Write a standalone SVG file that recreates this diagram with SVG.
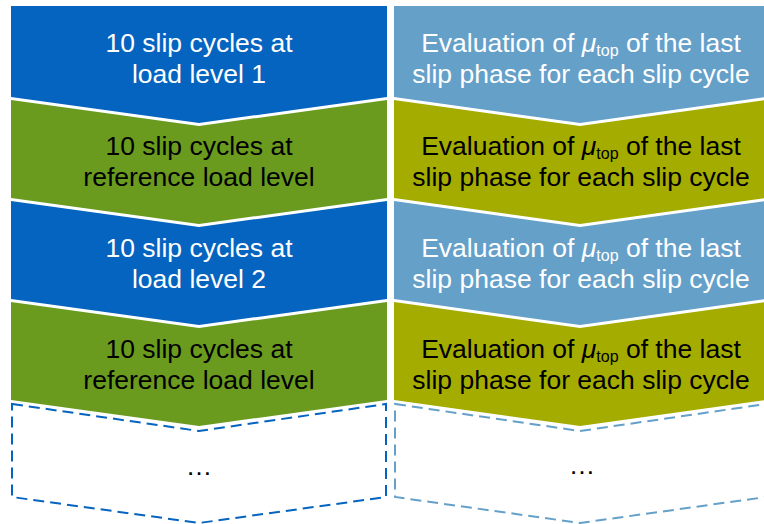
<svg xmlns="http://www.w3.org/2000/svg" width="764" height="524" viewBox="0 0 764 524">
<style>
.t{font-family:"Liberation Sans",Arial,sans-serif;font-size:26.5px;text-anchor:middle}
.w{fill:#ffffff}
.k{fill:#000000}
.mu{font-style:italic}
.sub{font-size:16px}
.db{fill:#0564c0}
.lb{fill:#65a0c9}
.gr{fill:#6a9b1f}
.ol{fill:#a5ac00}
.dash{fill:none;stroke-width:2;stroke-dasharray:11 6}
</style>
<rect width="764" height="524" fill="#ffffff"/>
<g id="connectors"/>
<g id="left1">
<polygon class="db" points="11,6 387,6 387,97 199,123 11,97"/>
<text class="t w" x="199" y="52">10 slip cycles at</text>
<text class="t w" x="199" y="83">load level 1</text>
</g>
<g id="left2">
<polygon class="gr" points="11,100 199,126 387,100 387,198 199,224 11,198"/>
<text class="t k" x="199" y="155">10 slip cycles at</text>
<text class="t k" x="199" y="186">reference load level</text>
</g>
<g id="left3">
<polygon class="db" points="11,201 199,227 387,201 387,299 199,325 11,299"/>
<text class="t w" x="199" y="257">10 slip cycles at</text>
<text class="t w" x="199" y="288">load level 2</text>
</g>
<g id="left4">
<polygon class="gr" points="11,302 199,328 387,302 387,400 199,426 11,400"/>
<text class="t k" x="199" y="358">10 slip cycles at</text>
<text class="t k" x="199" y="389">reference load level</text>
</g>
<g id="left5">
<polygon class="dash" stroke="#0564c0" points="12,404 199,431 386,404 386,497 199,523 12,497"/>
<text class="t k" x="199" y="475">…</text>
</g>
<g id="right1">
<polygon class="lb" points="394,6 766,6 766,97 580,123 394,97"/>
<text class="t w" x="581" y="52">Evaluation of <tspan class="mu">μ</tspan><tspan class="sub" dy="4">top</tspan><tspan dy="-4"> of the last</tspan></text>
<text class="t w" x="581" y="83">slip phase for each slip cycle</text>
</g>
<g id="right2">
<polygon class="ol" points="394,100 580,126 766,100 766,198 580,224 394,198"/>
<text class="t k" x="581" y="155">Evaluation of <tspan class="mu">μ</tspan><tspan class="sub" dy="4">top</tspan><tspan dy="-4"> of the last</tspan></text>
<text class="t k" x="581" y="186">slip phase for each slip cycle</text>
</g>
<g id="right3">
<polygon class="lb" points="394,201 580,227 766,201 766,299 580,325 394,299"/>
<text class="t w" x="581" y="257">Evaluation of <tspan class="mu">μ</tspan><tspan class="sub" dy="4">top</tspan><tspan dy="-4"> of the last</tspan></text>
<text class="t w" x="581" y="288">slip phase for each slip cycle</text>
</g>
<g id="right4">
<polygon class="ol" points="394,302 580,328 766,302 766,400 580,426 394,400"/>
<text class="t k" x="581" y="358">Evaluation of <tspan class="mu">μ</tspan><tspan class="sub" dy="4">top</tspan><tspan dy="-4"> of the last</tspan></text>
<text class="t k" x="581" y="389">slip phase for each slip cycle</text>
</g>
<g id="right5">
<polygon class="dash" stroke="#65a0c9" points="395,404 580,431 766,404 766,497 580,523 395,497"/>
<text class="t k" x="582" y="474">…</text>
</g>
</svg>
